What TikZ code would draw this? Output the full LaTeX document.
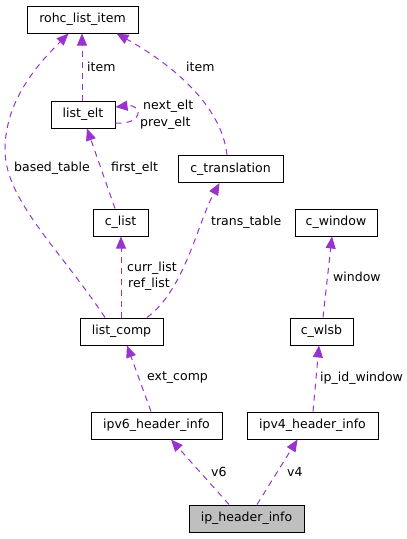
\documentclass[tikz,border=0pt]{standalone}
\usepackage{fontspec}
\setmainfont{DejaVu Sans}
\usetikzlibrary{arrows.meta}
\definecolor{edgecol}{HTML}{9A32CD}
\definecolor{hilite}{HTML}{BFBFBF}
\tikzset{
  cls/.style={draw=black, line width=1pt, fill=white, inner sep=0pt, minimum height=27pt, font=\fontsize{12.5}{14}\selectfont},
  edge/.style={draw=edgecol, line width=1pt, dash pattern=on 6pt off 5pt, -{Triangle[length=12pt,width=10pt,fill=edgecol]}},
  lbl/.style={anchor=west, inner sep=0pt, font=\fontsize{12.5}{14}\selectfont}
}
\begin{document}
\begin{tikzpicture}[x=1pt,y=-1pt]
\useasboundingbox (0,0) rectangle (407,539);
% nodes
\node[cls, minimum width=111pt] (rohc) at (82.5,19.5) {rohc\_list\_item};
\node[cls, minimum width=64pt] (listelt) at (83,114.5) {list\_elt};
\node[cls, minimum width=105pt] (ctrans) at (230.5,169) {c\_translation};
\node[cls, minimum width=55pt] (clist) at (120.5,222.5) {c\_list};
\node[cls, minimum width=82pt] (cwindow) at (336,222.5) {c\_window};
\node[cls, minimum width=83pt] (listcomp) at (121.5,331.5) {list\_comp};
\node[cls, minimum width=63pt] (cwlsb) at (321.5,331.5) {c\_wlsb};
\node[cls, minimum width=131pt] (ipv6) at (156.5,425.5) {ipv6\_header\_info};
\node[cls, minimum width=131pt] (ipv4) at (312.5,425.5) {ipv4\_header\_info};
\node[cls, minimum width=115pt, fill=hilite] (iph) at (246.5,518.5) {ip\_header\_info};
% edges
\draw[edge] ([xshift=-1pt]listelt.north) -- ([xshift=-0.5pt]rohc.south);
\draw[edge] ([yshift=-8.5pt]listelt.east) .. controls +(28,2) and +(28,-3) .. ([yshift=7.5pt]listelt.east);
\draw[edge] ([xshift=-3.5pt]ctrans.north) .. controls +(-6,-55) and +(45,25) .. ([xshift=34pt]rohc.south);
\draw[edge] ([xshift=-16.5pt]listcomp.north) .. controls +(-45,-68) and +(0,50) .. (5,150) .. controls +(0,-50) and +(-30,30) .. ([xshift=-14pt]rohc.south);
\draw[edge] ([xshift=-5.5pt]clist.north) -- ([xshift=4pt]listelt.south);
\draw[edge] ([xshift=-0.5pt]listcomp.north) -- ([xshift=0.5pt]clist.south);
\draw[edge] ([xshift=25.5pt]listcomp.north) .. controls +(38,-28) and +(-22,40) .. ([xshift=-11pt]ctrans.south);
\draw[edge] ([xshift=-5.5pt]ipv6.north) -- ([xshift=5.5pt]listcomp.south);
\draw[edge] ([xshift=1.5pt]cwlsb.north) -- ([xshift=-4pt]cwindow.south);
\draw[edge] ([xshift=0.5pt]ipv4.north) -- ([xshift=-2.5pt]cwlsb.south);
\draw[edge] ([xshift=-17.5pt]iph.north) -- ([xshift=14.5pt]ipv6.south);
\draw[edge] ([xshift=10.5pt]iph.north) -- ([xshift=-15pt]ipv4.south);
% labels
\node[lbl] (l1) at (87,67) {item};
\node[lbl] (l2) at (186,67) {item};
\node[lbl] (l3) at (143,106) {next\_elt};
\node[lbl] (l4) at (140,123) {prev\_elt};
\node[lbl] (l5) at (14,168) {based\_table};
\node[lbl] (l6) at (111,168) {first\_elt};
\node[lbl] (l7) at (211,222) {trans\_table};
\node[lbl] (l8) at (127,268) {curr\_list};
\node[lbl] (l9) at (128,284) {ref\_list};
\node[lbl] (l10) at (333,277) {window};
\node[lbl] (l11) at (147,378) {ext\_comp};
\node[lbl] (l12) at (320,378) {ip\_id\_window};
\node[lbl] (l13) at (211,472) {v6};
\node[lbl] (l14) at (287,472) {v4};
\end{tikzpicture}
\end{document}
